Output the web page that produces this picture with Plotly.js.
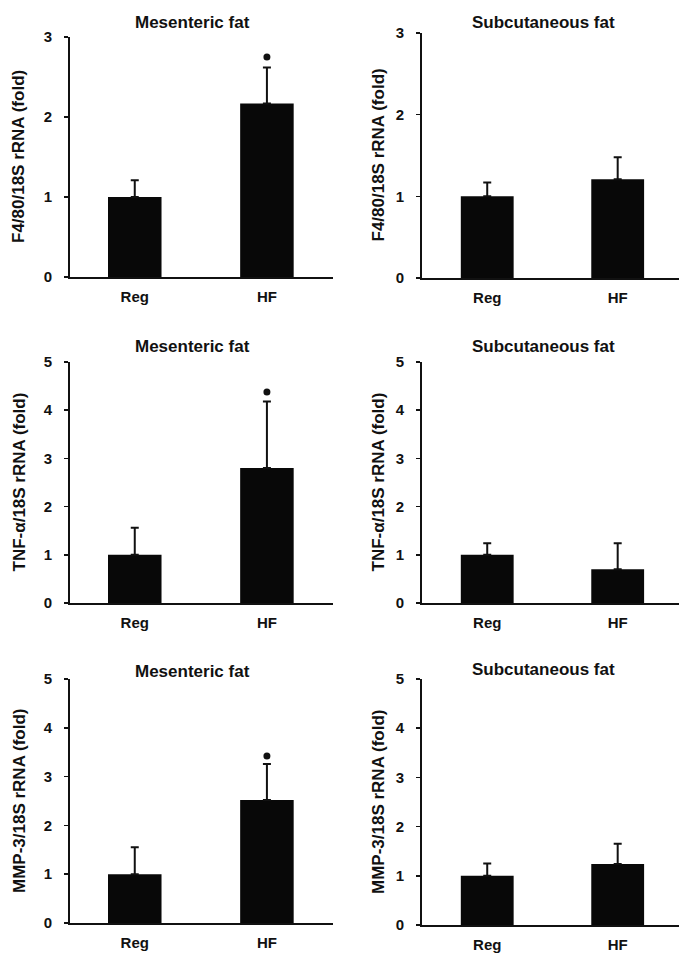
<!DOCTYPE html>
<html>
<head>
<meta charset="utf-8">
<script src="https://cdn.plot.ly/plotly-3.0.1.min.js"></script>
<style>html,body{margin:0;padding:0;background:#fff;}#chart{width:679px;height:953px;}</style>
</head>
<body>
<div id="chart"></div>
<script>
// ---- data ----
const categories = ["Reg", "HF"];
const panelTitles = ["Mesenteric fat", "Subcutaneous fat", "Mesenteric fat", "Subcutaneous fat", "Mesenteric fat", "Subcutaneous fat"];
const yTitles = ["F4/80/18S rRNA (fold)", "F4/80/18S rRNA (fold)", "TNF-α/18S rRNA (fold)", "TNF-α/18S rRNA (fold)", "MMP-3/18S rRNA (fold)", "MMP-3/18S rRNA (fold)"];
const f480Mes = [1.0, 2.17];
const f480MesErr = [0.21, 0.45];
const f480Sub = [1.0, 1.21];
const f480SubErr = [0.17, 0.27];
const tnfMes = [1.0, 2.8];
const tnfMesErr = [0.56, 1.38];
const tnfSub = [1.0, 0.7];
const tnfSubErr = [0.24, 0.54];
const mmpMes = [1.0, 2.52];
const mmpMesErr = [0.55, 0.74];
const mmpSub = [1.0, 1.24];
const mmpSubErr = [0.25, 0.41];
const yMax = [3, 3, 5, 5, 5, 5];
const starHeights = [[null, 2.75], null, [null, 4.38], null, [null, 3.42], null];

const series = [
  [f480Mes, f480MesErr], [f480Sub, f480SubErr],
  [tnfMes, tnfMesErr], [tnfSub, tnfSubErr],
  [mmpMes, mmpMesErr], [mmpSub, mmpSubErr]
];

// ---- layout geometry (pixels) ----
const W = 679, H = 953;
const xDom = [[70, 333], [422, 679], [70, 333], [422, 679], [70, 333], [422, 679]];
const xRng = [[-0.49, 1.5], [-0.5, 1.47], [-0.49, 1.5], [-0.5, 1.47], [-0.49, 1.5], [-0.5, 1.47]];
const yDom = [[37, 277], [33, 278], [362, 603], [362, 603], [679, 923], [679, 925]];
const titleY = [22, 22, 346, 346, 671, 669];
const titleX = [192, 543, 192, 543, 192, 543];
const yTitleX = [19, 378, 19, 378, 19, 378];

const FONT = "Liberation Sans, Arial, sans-serif";
const traces = [];
const layout = {
  width: W, height: H,
  margin: {l: 0, r: 0, t: 0, b: 0},
  paper_bgcolor: "#fff", plot_bgcolor: "#fff",
  showlegend: false,
  font: {family: FONT, color: "#111"},
  annotations: []
};

for (let i = 0; i < 6; i++) {
  const n = i + 1;
  const xa = n === 1 ? "x" : "x" + n;
  const ya = n === 1 ? "y" : "y" + n;
  traces.push({
    type: "bar", x: categories, y: series[i][0],
    xaxis: xa, yaxis: ya, width: 0.405,
    marker: {color: "#080808", line: {width: 0}},
    error_y: {type: "data", symmetric: false, array: series[i][1], arrayminus: [0, 0],
      color: "#111", thickness: 2, width: 4}
  });
  if (starHeights[i]) {
    traces.push({
      type: "scatter", mode: "markers", x: categories, y: starHeights[i],
      xaxis: xa, yaxis: ya,
      marker: {symbol: "circle", size: 7, color: "#111"}
    });
  }
  const xkey = n === 1 ? "xaxis" : "xaxis" + n;
  const ykey = n === 1 ? "yaxis" : "yaxis" + n;
  layout[xkey] = {
    domain: [xDom[i][0] / W, xDom[i][1] / W],
    anchor: ya, type: "category", range: xRng[i],
    showline: true, linecolor: "#111", linewidth: 2,
    showgrid: false, zeroline: false, ticks: "",
    ticklabelstandoff: 5,
    tickfont: {family: FONT, size: 15, weight: "bold", color: "#111"},
    fixedrange: true
  };
  layout[ykey] = {
    domain: [1 - yDom[i][1] / H, 1 - yDom[i][0] / H],
    anchor: xa, range: [0, yMax[i]], dtick: 1,
    showline: true, linecolor: "#111", linewidth: 2,
    showgrid: false, zeroline: false,
    ticks: "outside", ticklen: 4, tickwidth: 1.5, tickcolor: "#111",
    ticklabelstandoff: 9,
    tickfont: {family: FONT, size: 15, weight: "bold", color: "#111"},
    fixedrange: true
  };
  layout.annotations.push({
    text: panelTitles[i], xref: "paper", yref: "paper",
    x: titleX[i] / W, y: 1 - titleY[i] / H, xanchor: "center", yanchor: "middle",
    showarrow: false, font: {family: FONT, size: 17, weight: "bold", color: "#111"}
  });
  layout.annotations.push({
    text: yTitles[i], xref: "paper", yref: "paper", textangle: -90,
    x: yTitleX[i] / W, y: 1 - ((yDom[i][0] + yDom[i][1]) / 2) / H,
    xanchor: "center", yanchor: "middle",
    showarrow: false, font: {family: FONT, size: 17, weight: "bold", color: "#111"}
  });
}

Plotly.newPlot("chart", traces, layout, {displayModeBar: false, staticPlot: true});
</script>
</body>
</html>
